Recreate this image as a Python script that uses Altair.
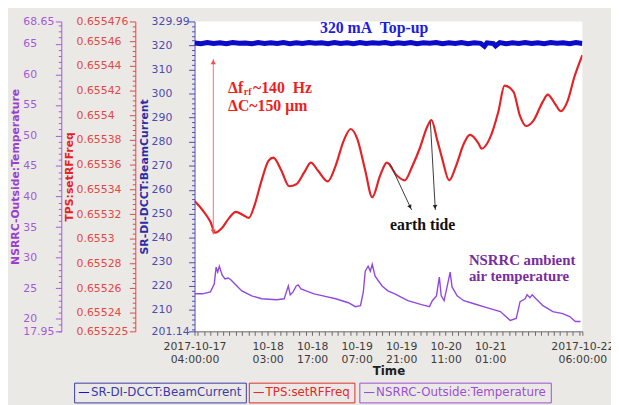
import altair as alt
import pandas as pd

T0 = pd.Timestamp("2017-10-17 04:00:00")

# ---------------- data (hours after 2017-10-17 04:00) ----------------
beam_hours = [0, 2, 4, 6, 8, 10, 12, 14, 16, 18, 20, 22, 24, 26, 28, 30, 32, 34, 36, 38, 40, 42,
              44, 46, 48, 50, 52, 54, 56, 58, 60, 62, 64, 66, 68, 70, 72, 74, 76, 78, 80, 82, 84,
              86, 88, 90, 91.2, 92, 94, 94.7, 96, 98, 100, 102, 104, 106, 108, 110, 112, 114,
              116, 118, 120, 122]
beam_values = [321.0, 320.7, 321.2, 320.8, 321.1, 320.7, 321.2, 320.9, 321.0, 320.7,
               321.2, 320.8, 321.1, 320.8, 321.2, 320.7, 321.1, 320.8, 321.2, 320.9,
               321.1, 320.7, 321.2, 320.8, 321.1, 320.7, 321.2, 320.8, 321.1, 320.9,
               321.2, 320.7, 321.1, 320.8, 321.2, 320.7, 321.1, 320.9, 321.2, 320.7,
               321.1, 320.8, 321.2, 320.7, 321.1, 320.9,
               319.7, 321.1, 320.8, 319.8,
               321.2, 320.7, 321.1, 320.8, 321.2, 320.8, 321.1, 320.7, 321.2, 320.9,
               321.1, 320.7, 321.2, 320.8]

rf_hours = [0, 2.5, 5.0, 6.5, 8.7, 10.9, 13.0, 15.2, 17.1, 18.9, 21.1, 23.3, 24.8, 27.3, 29.8,
            32.0, 34.5, 36.6, 38.8, 41.9, 44.4, 46.9, 49.1, 51.2, 53.7, 55.9, 58.4, 60.5, 63.6,
            66.1, 68.6, 70.8, 73.3, 74.5, 76.4, 77.9, 80.1, 82.3, 84.7, 86.6, 89.4, 90.3, 92.8,
            95.6, 97.5, 100.3, 102.4, 104.3, 106.5, 109.6, 111.1, 113.3, 115.2, 117.3, 119.5,
            122.0]
rf_values = [0.6553305, 0.6553233, 0.6553137, 0.6553049, 0.6553089, 0.6553169, 0.6553217,
             0.6553193, 0.6553169, 0.6553273, 0.6553473, 0.6553633, 0.6553657, 0.6553553,
             0.6553425, 0.6553441, 0.6553537, 0.6553617, 0.6553553, 0.6553465, 0.6553593,
             0.6553793, 0.6553889, 0.6553809, 0.6553553, 0.6553337, 0.6553513, 0.6553617,
             0.6553513, 0.6553473, 0.6553593, 0.6553729, 0.6553913, 0.6553961, 0.6553793,
             0.6553649, 0.6553473, 0.6553593, 0.6553769, 0.6553841, 0.6553769, 0.6553729,
             0.6553809, 0.6554033, 0.6554240, 0.6554192, 0.6553993, 0.6553913, 0.6553953,
             0.6554113, 0.6554168, 0.6554097, 0.6554033, 0.6554113, 0.6554312, 0.6554488]

temp_hours = [0, 2.5, 5.0, 6.2, 6.8, 7.3, 7.8, 8.7, 9.6, 10.6, 11.5, 12.7, 14.9, 18.0, 21.1,
              25.8, 28.2, 28.9, 29.5, 30.1, 31.0, 32.0, 32.6, 33.5, 35.1, 37.6, 40.4, 44.4,
              48.4, 50.6, 52.2, 53.1, 53.7, 54.6, 55.3, 55.9, 56.8, 59.0, 60.8, 63.0, 67.1,
              71.4, 73.9, 74.8, 76.1, 77.0, 77.6, 78.5, 79.5, 80.4, 81.0, 82.6, 84.7, 87.9,
              91.9, 96.2, 99.3, 101.2, 102.4, 104.0, 104.6, 105.5, 106.2, 107.4, 109.6, 112.7,
              115.8, 118.0, 119.8, 121.4]
temp_values = [24.09, 24.09, 24.41, 25.70, 28.45, 27.64, 28.61, 27.15, 26.51, 26.67, 26.35,
               25.70, 24.57, 23.76, 23.28, 23.12, 23.28, 24.41, 25.38, 23.93, 24.41, 25.38,
               25.54, 24.89, 24.57, 24.09, 23.76, 23.28, 22.63, 21.99, 22.15, 24.41, 27.80,
               28.61, 27.80, 28.93, 26.99, 25.38, 24.57, 24.09, 22.96, 22.31, 21.99, 22.96,
               23.76, 26.83, 23.76, 22.96, 25.38, 27.64, 25.22, 23.76, 22.96, 22.47, 21.83,
               21.18, 19.73, 20.05, 22.80, 23.28, 23.93, 23.44, 23.93, 23.28, 22.15, 21.18,
               20.86, 20.37, 19.57, 19.57]

BEAM_NAME = "SR-DI-DCCT:BeamCurrent"
RF_NAME = "TPS:setRFFreq"
TEMP_NAME = "NSRRC-Outside:Temperature"

beam_domain = [201.14, 329.99]
rf_domain = [0.655225, 0.655476]
temp_domain = [17.95, 68.65]

x_label_hours = [0, 23, 37, 51, 65, 79, 93, 122]
x_tick_hours = [0] + list(range(1, 122, 2)) + [122]
beam_ticks = [201.14] + list(range(202, 330, 2)) + [329.99]
rf_ticks = [0.655225] + [round(0.655228 + 0.000004 * i, 6) for i in range(63)]
temp_ticks = [17.95] + list(range(18, 69)) + [68.65]

# annotations (time in hours, value on the series' own axis)
topup_note = {"h": [56.5], "v": [325.07], "label": ["320 mA\u00a0 Top-up"]}
rf_arrow = {"h": [5.9], "v": [0.6554456], "v2": [0.6553033]}
rf_arrow_up = {"h": [5.9], "v": [0.6554432]}
rf_arrow_down = {"h": [5.9], "v": [0.6553057]}
rf_note_main = {"h": [10.55, 10.55], "v": [0.6554184, 0.6554033], "label": ["\u0394f", "\u0394C~150 \u03bcm"]}
rf_note_sub = {"h": [15.5], "v": [0.6554168], "label": ["rf"]}
rf_note_rest = {"h": [18.4], "v": [0.6554184], "label": ["~140\u00a0 Hz"]}
tide_lines = {"h": [61.46, 74.19], "v": [0.6553609, 0.6553945], "h2": [68.30, 75.74], "v2": [0.6553233, 0.6553233]}
tide_heads = {"h": [67.83, 75.68], "v": [0.6553257, 0.6553257], "ang": [333, 356]}
tide_note = {"h": [61.5], "v": [0.6553073], "label": ["earth tide"]}
temp_note = {"h": [86.3, 86.3], "v": [28.77, 26.19], "label": ["NSRRC ambient", "air temperature"]}


def ts(h):
    return T0 + pd.Timedelta(hours=h)


def dt(h):
    t = ts(h)
    return alt.DateTime(year=t.year, month=t.month, date=t.day, hours=t.hour, minutes=t.minute)


def frame(d):
    df = pd.DataFrame(d)
    df["t"] = [ts(h) for h in df["h"]]
    if "h2" in df:
        df["t2"] = [ts(h) for h in df["h2"]]
    return df


def series(hours, values, name):
    return pd.DataFrame({"t": [ts(h) for h in hours], "v": values, "s": name})


# ---------------- colours / fonts ----------------
BG = "#ebe9e5"
BLUE_LINE, BLUE_AX, BLUE_TITLE = "#0b0bc8", "#4b4bb4", "#2c2ca6"
RED_LINE, RED_AX, RED_TITLE = "#e42326", "#e24848", "#e42222"
PUR_LINE, PUR_AX, PUR_TITLE = "#9048e0", "#a45ad8", "#9a3ed2"
SANS = "DejaVu Sans"
SERIF = "Liberation Serif"

# ---------------- x axis ----------------
H = "round((datum.value - datetime(2017, 9, 17, 4, 0, 0)) / 3600000)"
x_label_expr = (
    f"({H} == 0 || {H} == 122) ? [timeFormat(datum.value, '%Y-%m-%d'), timeFormat(datum.value, '%H:%M:%S')] : "
    f"(indexof({x_label_hours[1:-1]}, {H}) >= 0 ? [timeFormat(datum.value, '%m-%d'), timeFormat(datum.value, '%H:%M')] : '')"
)
x_axis = alt.Axis(
    values=[dt(h) for h in x_tick_hours], labelExpr=x_label_expr, labelOverlap=False,
    labelFlush=False, labelFont=SANS, labelFontSize=11, labelLineHeight=14, labelColor="#3c3c3c",
    labelPadding=5, tickSize=4, tickColor="#6a6a6a", domainColor="#6a6a6a", grid=False,
    title="Time", titleFont=SANS, titleFontSize=12, titleFontWeight="bold", titleColor="#1e1e1e",
    titlePadding=1,
)
x_scale = alt.Scale(domain=[dt(0), dt(122)])
X = alt.X("t:T", scale=x_scale, axis=x_axis)


def y_axis(title, color, tcolor, offset, ticks, test, fmt, pad):
    return alt.Axis(
        orient="left", offset=offset, values=ticks,
        labelExpr=f"({test}) ? format(datum.value, '{fmt}') : ''",
        tickSize={"condition": {"test": test, "value": 6}, "value": 3},
        labelAlign="left", labelPadding=pad, labelFont=SANS, labelFontSize=11, labelColor=color,
        labelOverlap=False, labelFlush=False, tickColor=color, domainColor=color, grid=False,
        title=title, titleFont=SANS, titleFontSize=11, titleFontWeight="bold", titleColor=tcolor,
        titlePadding=2,
    )


beam_test = "datum.value % 10 == 0 || datum.value == 201.14 || datum.value == 329.99"
rf_test = ("round(datum.value * 1e6) % 20 == 0 || round(datum.value * 1e6) == 655225 || "
           "round(datum.value * 1e6) == 655476")
temp_test = "datum.value % 5 == 0 || datum.value == 17.95 || datum.value == 68.65"

beam_axis = y_axis(BEAM_NAME, BLUE_AX, BLUE_TITLE, 0, beam_ticks, beam_test, ".2~f", 38)
rf_axis = y_axis(RF_NAME, RED_AX, RED_TITLE, 60, rf_ticks, rf_test, ".6~f", 54)
temp_axis = y_axis(TEMP_NAME, PUR_AX, PUR_TITLE, 135, temp_ticks, temp_test, ".2~f", 33)

Yb = alt.Y("v:Q", scale=alt.Scale(domain=beam_domain, nice=False, zero=False), axis=beam_axis)
Yr = alt.Y("v:Q", scale=alt.Scale(domain=rf_domain, nice=False, zero=False), axis=rf_axis)
Yt = alt.Y("v:Q", scale=alt.Scale(domain=temp_domain, nice=False, zero=False), axis=temp_axis)


def legend(color, x):
    return alt.Legend(
        title=None, orient="none", legendX=x, legendY=366, strokeColor=color, padding=4,
        symbolType="stroke", symbolSize=110, symbolStrokeWidth=1, symbolOffset=0,
        labelFont=SANS, labelFontSize=12, labelColor=color, labelOffset=1, labelLimit=400,
    )


def color_enc(name, line_color, text_color, x):
    return alt.Color("s:N", scale=alt.Scale(domain=[name], range=[line_color]),
                     legend=legend(text_color, x))


# ---------------- blue group ----------------
beam_line = alt.Chart(series(beam_hours, beam_values, BEAM_NAME)).mark_line(
    strokeWidth=5, clip=True).encode(x=X, y=Yb, color=color_enc(BEAM_NAME, BLUE_LINE, "#3b3ba8", -122))
topup_text = alt.Chart(frame(topup_note)).mark_text(
    font=SERIF, fontWeight="bold", fontSize=16, color="#1c1ce2", align="center",
    baseline="alphabetic").encode(x=X, y=Yb, text="label:N")
beam_group = alt.layer(beam_line, topup_text)

# ---------------- red group ----------------
rf_line = alt.Chart(series(rf_hours, rf_values, RF_NAME)).mark_line(
    strokeWidth=2.2, interpolate="monotone", clip=True).encode(
    x=X, y=Yr, color=color_enc(RF_NAME, RED_LINE, "#e02a2a", 55))
arrow_rule = alt.Chart(frame(rf_arrow)).mark_rule(color="#ff6a6a", strokeWidth=1).encode(
    x=X, y=Yr, y2=alt.Y2("v2"))
arrow_up = alt.Chart(frame(rf_arrow_up)).mark_point(
    shape="triangle-up", filled=True, size=28, color="#ff4a4a", opacity=1).encode(x=X, y=Yr)
arrow_down = alt.Chart(frame(rf_arrow_down)).mark_point(
    shape="triangle-down", filled=True, size=28, color="#ff4a4a", opacity=1).encode(x=X, y=Yr)
red_kw = dict(font=SERIF, fontWeight="bold", color="#ee1f1f", align="left", baseline="alphabetic")
rf_text_main = alt.Chart(frame(rf_note_main)).mark_text(fontSize=16, **red_kw).encode(
    x=X, y=Yr, text="label:N")
rf_text_sub = alt.Chart(frame(rf_note_sub)).mark_text(fontSize=10, **red_kw).encode(
    x=X, y=Yr, text="label:N")
rf_text_rest = alt.Chart(frame(rf_note_rest)).mark_text(fontSize=16, **red_kw).encode(
    x=X, y=Yr, text="label:N")
tide_rule = alt.Chart(frame(tide_lines)).mark_rule(color="#3a3a3a", strokeWidth=1).encode(
    x=X, y=Yr, x2=alt.X2("t2"), y2=alt.Y2("v2"))
tide_head = alt.Chart(frame(tide_heads)).mark_point(
    shape="triangle-down", filled=True, size=22, color="#202020", opacity=1).encode(
    x=X, y=Yr, angle=alt.Angle("ang:Q", scale=None))
tide_text = alt.Chart(frame(tide_note)).mark_text(
    font=SERIF, fontWeight="bold", fontSize=16, color="#111111", align="left",
    baseline="alphabetic").encode(x=X, y=Yr, text="label:N")
rf_group = alt.layer(rf_line, arrow_rule, arrow_up, arrow_down, rf_text_main, rf_text_sub,
                     rf_text_rest, tide_rule, tide_head, tide_text)

# ---------------- purple group ----------------
temp_line = alt.Chart(series(temp_hours, temp_values, TEMP_NAME)).mark_line(
    strokeWidth=1.4, clip=True).encode(
    x=X, y=Yt, color=color_enc(TEMP_NAME, PUR_LINE, "#9b4fd6", 167))
temp_text = alt.Chart(frame(temp_note)).mark_text(
    font=SERIF, fontWeight="bold", fontSize=15, color="#7a2c9e", align="left",
    baseline="alphabetic").encode(x=X, y=Yt, text="label:N")
temp_group = alt.layer(temp_line, temp_text)

chart = alt.layer(temp_group, rf_group, beam_group).resolve_scale(
    y="independent", color="independent"
).properties(
    width=393, height=314, background=BG,
    padding={"left": 189, "top": 11, "right": 29, "bottom": 72},
    autosize=alt.AutoSizeParams(type="none"),
).configure_view(fill="white", strokeWidth=0)

chart.save("out.html", embed_options={"renderer": "svg", "actions": False})
